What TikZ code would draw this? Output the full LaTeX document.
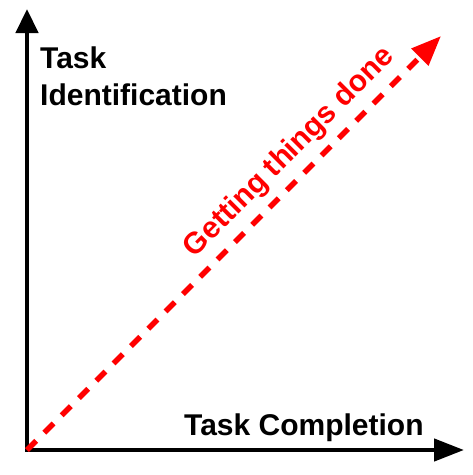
\documentclass[tikz,border=0pt]{standalone}
\usepackage{fontspec}
\setmainfont{Liberation Sans}
\usetikzlibrary{arrows.meta}
\begin{document}
\begin{tikzpicture}[x=1pt,y=-1pt,
    axis/.style={line width=4.5pt,
      {Triangle[length=24pt,width=22pt]}-{Triangle[length=30pt,width=22pt]}},
    trend/.style={red,line width=5.5pt,dash pattern=on 13pt off 11.5pt,
      -{Triangle[length=30pt,width=23pt]}},
    axislabel/.style={font=\fontsize{30}{37}\selectfont\bfseries,
      inner sep=0pt,align=left}]
  \useasboundingbox (0,0) rectangle (473,475);
  \coordinate (origin) at (27,450);
  \coordinate (ytip) at (27,9);
  \coordinate (xtip) at (464,450);
  \coordinate (goal) at (441,36);
  % axes
  \draw[axis] (ytip) -- (origin) -- (xtip);
  \draw[trend] (origin) -- (goal);
  % labels
  \node[axislabel,anchor=base west] (ident) at (40,105) {Task\\Identification};
  \node[axislabel,anchor=base west] (compl) at (184,435) {Task Completion};
  \node[axislabel,text=red,rotate=45,anchor=base] (done) at (295,158)
    {Getting things done};
\end{tikzpicture}
\end{document}
